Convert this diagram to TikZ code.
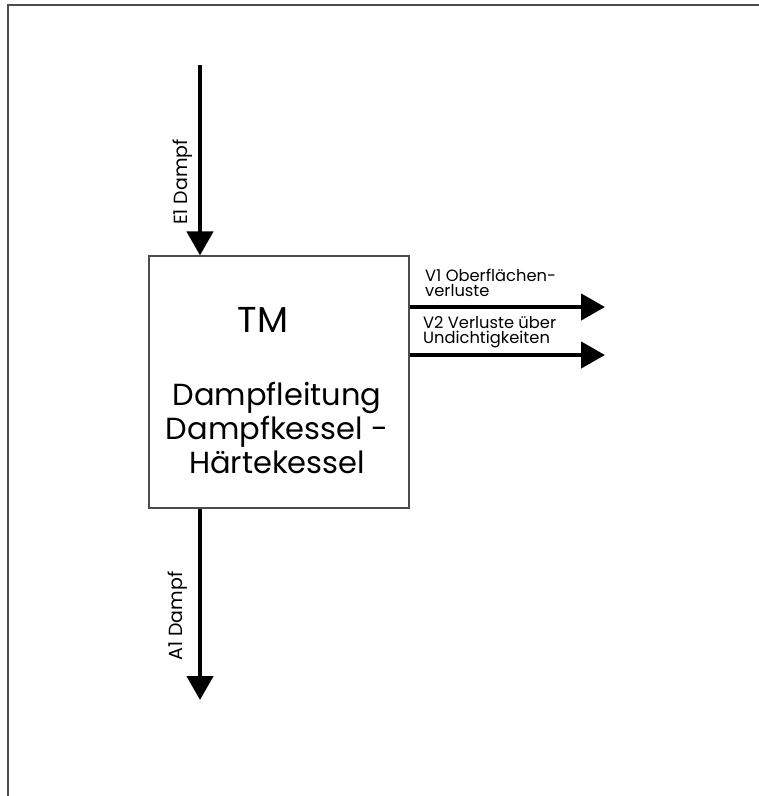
\documentclass[tikz,border=0pt]{standalone}
\usepackage{fontspec}
\setmainfont{Poppins}
\usetikzlibrary{arrows.meta}
\begin{document}
\begin{tikzpicture}[x=1pt,y=-1pt,
  flow/.style={line width=4.5pt,-{Triangle[length=24pt,width=26pt]}},
  lbl/.style={font=\fontsize{19}{19}\selectfont,inner sep=0pt},
  lbl2/.style={font=\fontsize{16.3}{15}\selectfont,inner sep=0pt,align=left,anchor=west},
  big/.style={font=\fontsize{30.5}{34}\selectfont,inner sep=0pt,align=center}]
\useasboundingbox (0,0) rectangle (759,796);
\draw[line width=1.2pt,black!70] (8,796) -- (8,5) -- (759,5);
\node[draw=black!70,line width=1.2pt,minimum width=260pt,minimum height=252pt,inner sep=0pt] (box) at (279,382) {};
\node[font=\fontsize{36}{36}\selectfont,inner sep=0pt] (tm) at (263,320) {TM};
\node[big] (desc) at (277,428) {Dampfleitung\\Dampfkessel -\\Härtekessel};
\coordinate (e1) at (200,65);
\coordinate (a1) at (200,700);
\coordinate (v1) at (605,307);
\coordinate (v2) at (605,355);
\draw[flow] (e1) -- (e1 |- box.north);
\draw[flow] (a1 |- box.south) -- (a1);
\draw[flow] (box.east |- v1) -- (v1);
\draw[flow] (box.east |- v2) -- (v2);
\node[lbl,rotate=90] (e1l) at (183,182) {E1 Dampf};
\node[lbl,rotate=90] (a1l) at (178,616) {A1 Dampf};
\node[lbl2] (v1l) at (425,283) {V1 Oberflächen-\\verluste};
\node[lbl2] (v2l) at (423,332) {V2 Verluste über\\Undichtigkeiten};
\end{tikzpicture}
\end{document}
